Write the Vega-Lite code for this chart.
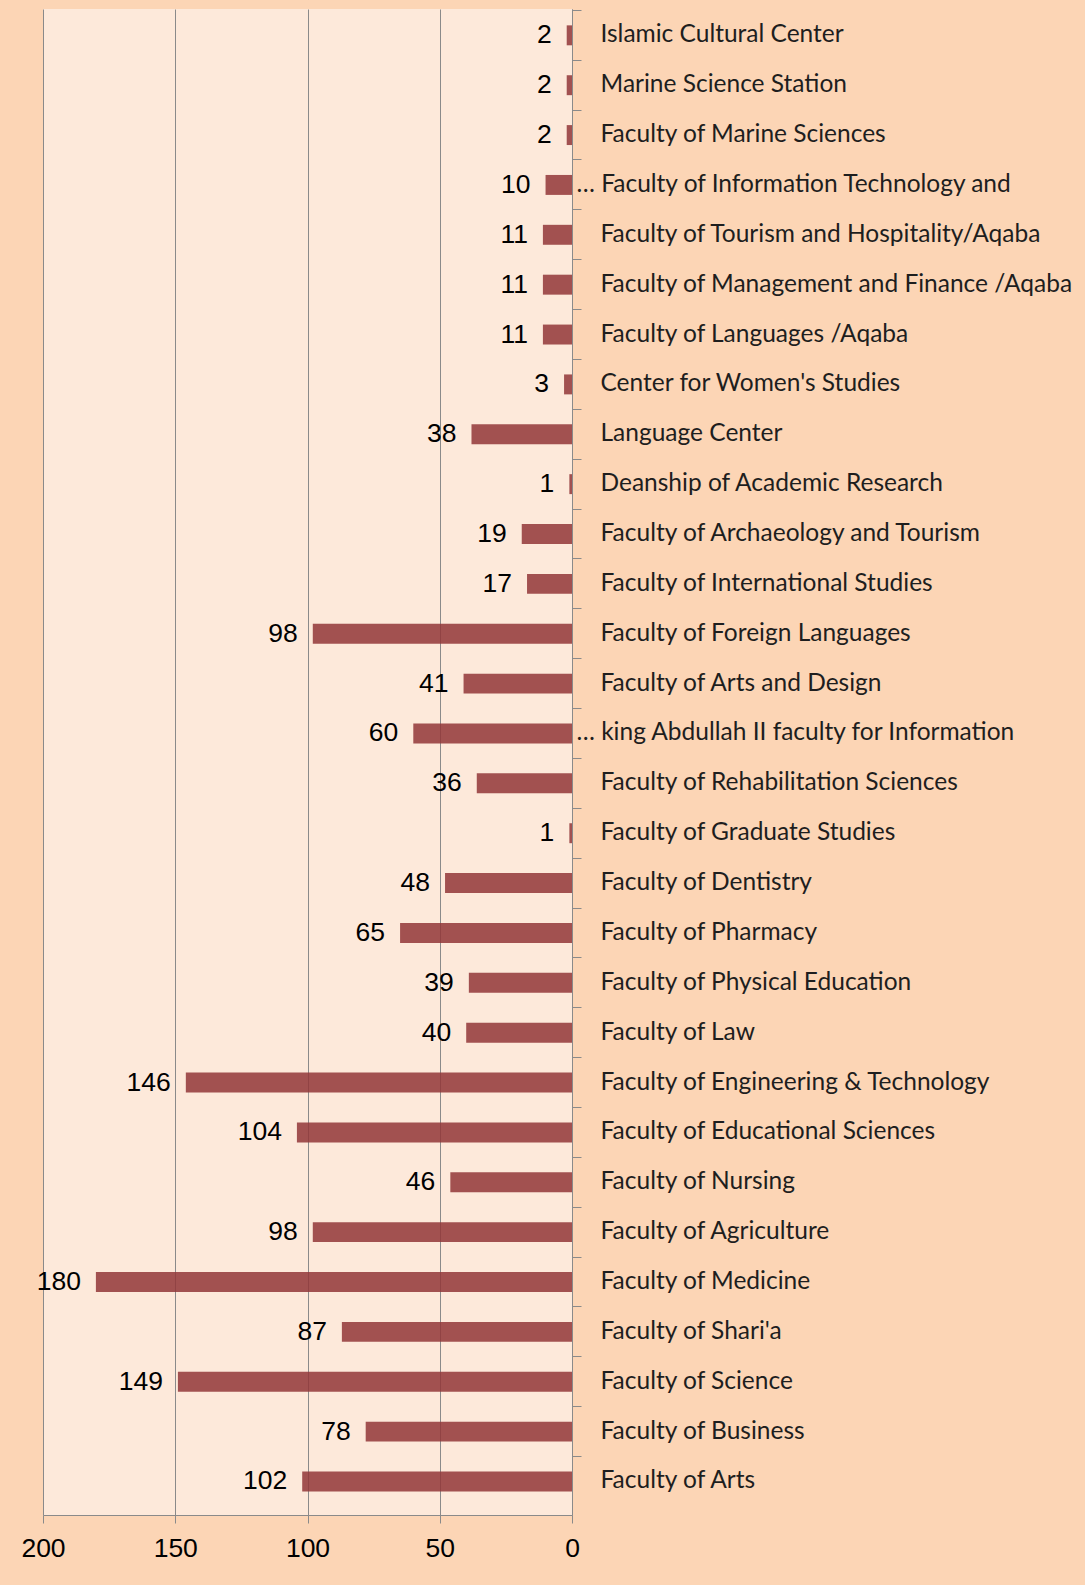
{
  "$schema": "https://vega.github.io/schema/vega-lite/v6.json",
  "width": 529,
  "height": 1506,
  "autosize": "none",
  "padding": {"left": 43, "top": 9, "right": 513, "bottom": 70},
  "background": "#FCD5B5",
  "view": {"fill": "#FDE9DA", "stroke": null},
  "data": {
    "values": [
      {"name": "Islamic Cultural Center", "value": 2},
      {"name": "Marine Science Station", "value": 2},
      {"name": "Faculty of Marine Sciences", "value": 2},
      {"name": "… Faculty of Information Technology and", "value": 10},
      {"name": "Faculty of Tourism and Hospitality/Aqaba", "value": 11},
      {"name": "Faculty of Management and Finance /Aqaba", "value": 11},
      {"name": "Faculty of Languages /Aqaba", "value": 11},
      {"name": "Center for Women's Studies", "value": 3},
      {"name": "Language Center", "value": 38},
      {"name": "Deanship of Academic Research", "value": 1},
      {"name": "Faculty of Archaeology and Tourism", "value": 19},
      {"name": "Faculty of International Studies", "value": 17},
      {"name": "Faculty of Foreign Languages", "value": 98},
      {"name": "Faculty of Arts and Design", "value": 41},
      {"name": "… king Abdullah II faculty for Information", "value": 60},
      {"name": "Faculty of Rehabilitation Sciences", "value": 36},
      {"name": "Faculty of Graduate Studies", "value": 1},
      {"name": "Faculty of Dentistry", "value": 48},
      {"name": "Faculty of Pharmacy", "value": 65},
      {"name": "Faculty of Physical Education", "value": 39},
      {"name": "Faculty of Law", "value": 40},
      {"name": "Faculty of Engineering & Technology", "value": 146},
      {"name": "Faculty of Educational Sciences", "value": 104},
      {"name": "Faculty of Nursing", "value": 46},
      {"name": "Faculty of Agriculture", "value": 98},
      {"name": "Faculty of Medicine", "value": 180},
      {"name": "Faculty of Shari'a", "value": 87},
      {"name": "Faculty of Science", "value": 149},
      {"name": "Faculty of Business", "value": 78},
      {"name": "Faculty of Arts", "value": 102}
    ]
  },
  "encoding": {
    "y": {
      "field": "name",
      "type": "nominal",
      "sort": null,
      "scale": {"paddingInner": 0.6, "paddingOuter": 0.4, "align": 0.41},
      "axis": {
        "orient": "right",
        "title": null,
        "bandPosition": -0.75,
        "tickSize": 9,
        "tickColor": "#8a8a8a",
        "domainColor": "#8a8a8a",
        "labelFont": "Lato",
        "labelFontSize": 24.5,
        "labelColor": "#1e1e1e",
        "labelPadding": {"condition": {"test": "indexof(datum.label, '…') === 0", "value": -5}, "value": 19},
        "labelLimit": 600,
        "grid": false
      }
    }
  },
  "layer": [
    {
      "mark": {"type": "bar", "color": "#923637", "opacity": 0.85},
      "encoding": {
        "x": {
          "field": "value",
          "type": "quantitative",
          "scale": {"domain": [0, 200], "reverse": true},
          "axis": {
            "title": null,
            "values": [0, 50, 100, 150, 200],
            "grid": true,
            "gridColor": "#8a8a8a",
            "gridWidth": 1,
            "tickSize": 8,
            "tickColor": "#8a8a8a",
            "domainColor": "#8a8a8a",
            "labelFont": "Liberation Sans",
            "labelFontSize": 26.5,
            "labelColor": "#000000",
            "labelPadding": 12,
            "labelFlush": false
          }
        }
      }
    },
    {
      "mark": {"type": "text", "align": "right", "baseline": "middle", "dx": -15, "font": "Liberation Sans", "fontSize": 26.5, "color": "#000000"},
      "encoding": {
        "x": {"field": "value", "type": "quantitative"},
        "text": {"field": "value", "type": "quantitative"}
      }
    }
  ]
}
